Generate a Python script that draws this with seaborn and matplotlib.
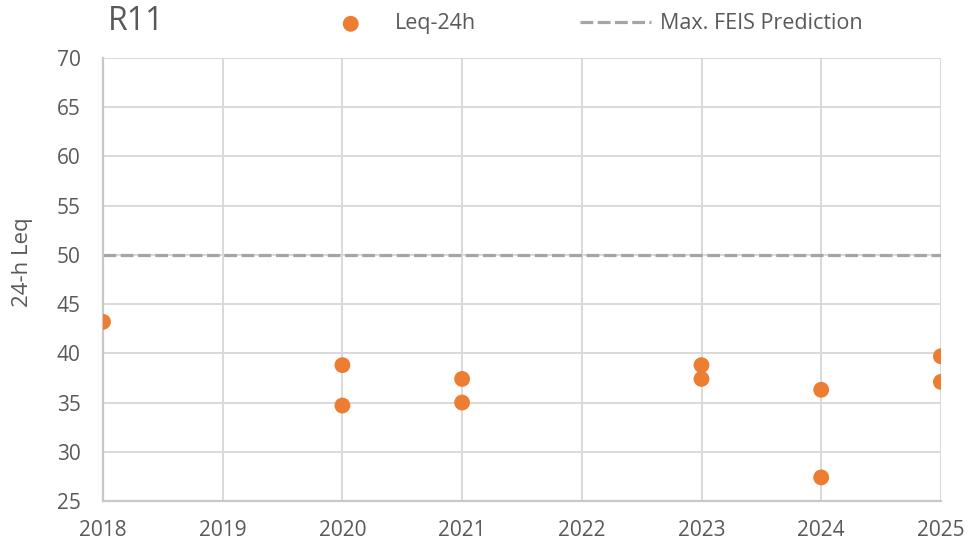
import matplotlib
matplotlib.use("Agg")
import matplotlib.pyplot as plt
import seaborn as sns
import pandas as pd

# Measured 24-hour Leq at site R11, one entry per survey
years = [2018, 2020, 2020, 2021, 2021, 2023, 2023, 2024, 2024, 2025, 2025]
leq_24h = [43.2, 38.8, 34.7, 37.4, 35.0, 38.8, 37.4, 36.3, 27.4, 39.7, 37.1]
feis_max = 50.0
year_ticks = [2018, 2019, 2020, 2021, 2022, 2023, 2024, 2025]
leq_ticks = [25, 30, 35, 40, 45, 50, 55, 60, 65, 70]

df = pd.DataFrame({"Year": years, "Leq": leq_24h})

sns.set_theme(style="white")
plt.rcParams["font.family"] = ["Open Sans", "DejaVu Sans"]
text_color = "#595959"
orange = "#ED7D31"

fig = plt.figure(figsize=(9.69, 5.44), dpi=100)
ax = fig.add_axes([0.1063, 0.079, 0.8647, 0.8145])

ax.axhline(feis_max, color="#A5A5A5", lw=2.3, dashes=(4.0, 1.4),
           label="Max. FEIS Prediction", zorder=2)
sns.scatterplot(data=df, x="Year", y="Leq", ax=ax, color=orange, s=130,
                edgecolor="none", label="Leq-24h", zorder=3)

ax.set_xlim(2018, 2025)
ax.set_ylim(25, 70)
ax.set_xticks(year_ticks)
ax.set_yticks(leq_ticks)
ax.grid(True, color="#D9D9D9", lw=1.4)
ax.set_axisbelow(True)
for side in ["top", "right"]:
    ax.spines[side].set_visible(False)
for side in ["left", "bottom"]:
    ax.spines[side].set_color("#C8C8C8")
    ax.spines[side].set_linewidth(1.6)
ax.tick_params(axis="both", length=0, labelsize=15, colors=text_color)
ax.tick_params(axis="x", pad=14)
ax.tick_params(axis="y", pad=16)
ax.set_xlabel("")
ax.set_ylabel("24-h Leq", fontsize=16, color=text_color)
ax.yaxis.set_label_coords(-0.0835, 0.54)

handles, labels = ax.get_legend_handles_labels()
order = [labels.index("Leq-24h"), labels.index("Max. FEIS Prediction")]
leg = fig.legend([handles[i] for i in order], [labels[i] for i in order],
                 ncol=2, loc="center left", bbox_to_anchor=(0.3142, 0.956),
                 frameon=False, fontsize=15.5, handlelength=3.3, borderpad=0,
                 handletextpad=0.4, columnspacing=4.85, markerscale=1.0)
for t in leg.get_texts():
    t.set_color(text_color)
if ax.get_legend() is not None:
    ax.get_legend().remove()

fig.text(0.111, 0.9605, "R11", fontsize=23, color=text_color, va="center", ha="left")

fig.savefig("out.png", dpi=100)
